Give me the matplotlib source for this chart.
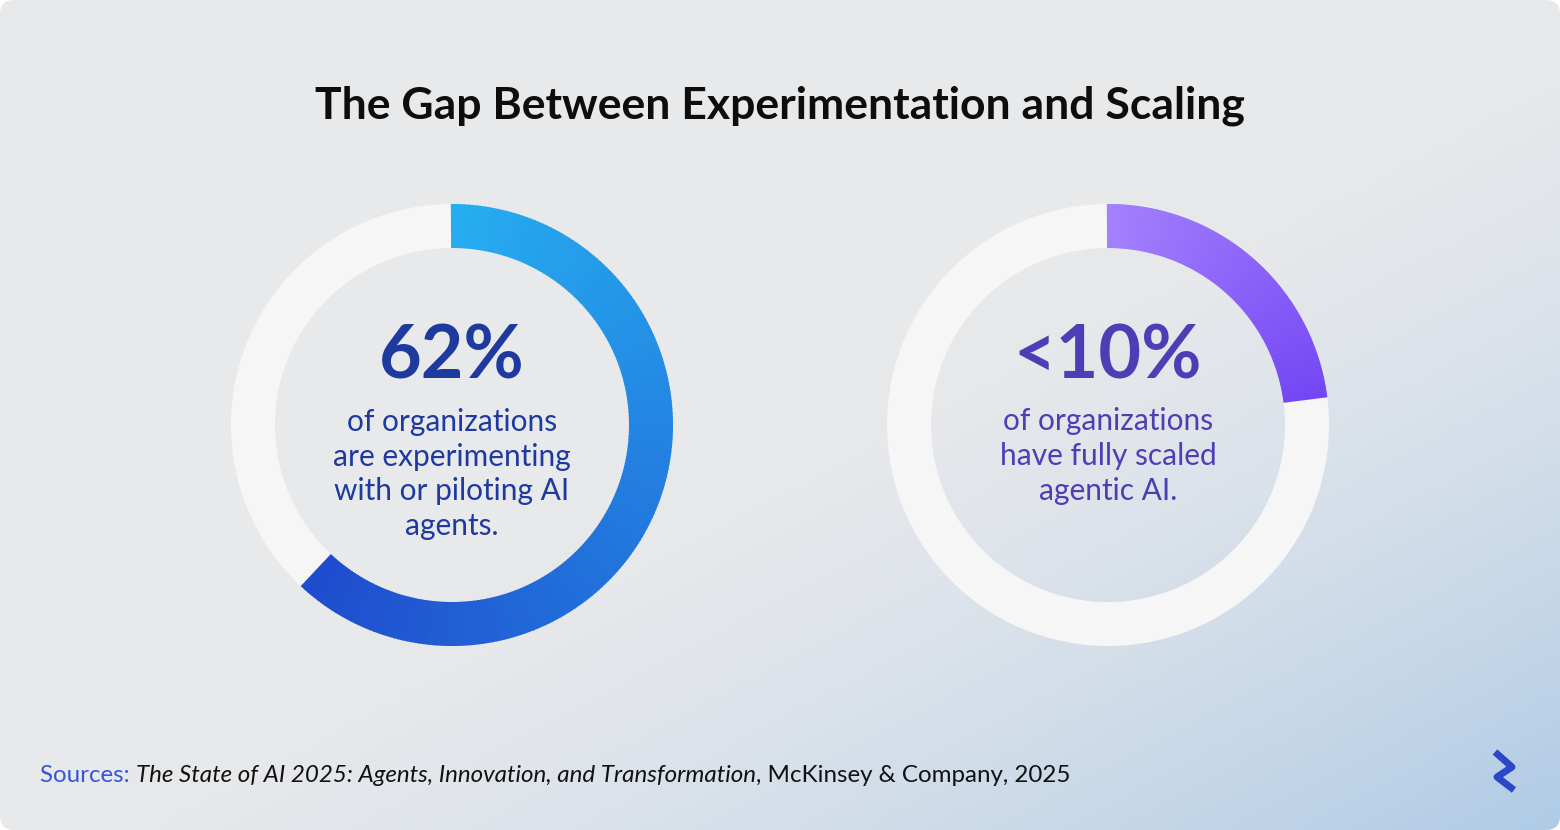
import numpy as np
import matplotlib.pyplot as plt
from matplotlib.patches import Wedge, FancyBboxPatch
from matplotlib.colors import LinearSegmentedColormap, to_rgb

plt.rcParams['font.family'] = ['Lato', 'DejaVu Sans']

title = "The Gap Between Experimentation and Scaling"
values = [62, 23]          # arc share drawn in each ring
big_labels = ["62%", "<10%"]
sub_labels = ["of organizations\nare experimenting\nwith or piloting AI\nagents.",
              "of organizations\nhave fully scaled\nagentic AI."]
text_colors = ["#1f3a9f", "#4f3db5"]
arc_colors = [("#26adf0", "#1f4bce"), ("#a381fd", "#7447f4")]

W, H = 1560, 830
fig = plt.figure(figsize=(15.6, 8.3), dpi=100)
fig.patch.set_alpha(0)
ax = fig.add_axes([0, 0, 1, 1])
ax.set_xlim(0, W)
ax.set_ylim(0, H)
ax.axis("off")

# background gradient gray -> light blue towards bottom right
xx, yy = np.meshgrid(np.linspace(0, 1, 300), np.linspace(0, 1, 160))
t = np.clip((xx * 0.9 + yy * 0.9 - 0.9) / 0.9, 0, 1) ** 1.5
c0, c1 = np.array(to_rgb("#e8e9eb")), np.array(to_rgb("#afcbe6"))
img = c0 + (c1 - c0) * t[..., None]
im = ax.imshow(img, extent=[0, W, 0, H], origin="upper", zorder=0)
clip = FancyBboxPatch((0, 0), W, H, boxstyle="round,pad=0,rounding_size=14",
                      transform=ax.transData, facecolor="none", edgecolor="none")
ax.add_patch(clip)
im.set_clip_path(clip)

ax.text(W / 2, H - 106, title, ha="center", va="center", fontsize=32,
        fontweight="bold", color="#0d0d0d")

centers = [452, 1108]
cy = H - 425
r_out, width = 221, 44
for i, cx in enumerate(centers):
    ax.add_patch(Wedge((cx, cy), r_out, 0, 360, width=width,
                       facecolor="#f6f6f6", edgecolor="none", zorder=2))
    cmap = LinearSegmentedColormap.from_list("a", arc_colors[i])
    span = 360 * values[i] / 100
    n = 200
    for k in range(n):
        a0 = 90 - span * k / n
        a1 = 90 - span * (k + 1) / n
        ax.add_patch(Wedge((cx, cy), r_out, a1, a0 + 0.3, width=width,
                           facecolor=cmap(k / n), edgecolor="none", zorder=3))
    ax.text(cx, H - 357, big_labels[i], ha="center", va="center",
            fontsize=53, fontweight="bold", color=text_colors[i])
    nlines = sub_labels[i].count("\n") + 1
    ax.text(cx, H - (420 + (nlines - 1) * 18), sub_labels[i], ha="center",
            va="center", fontsize=21.5, color=text_colors[i], linespacing=1.3)

src = ax.text(40, H - 775, "Sources: ", ha="left", va="center", fontsize=17.4,
              color="#3456d8")
src2 = ax.annotate("The State of AI 2025: Agents, Innovation, and Transformation",
                   xy=(1, 0.5), xycoords=src, ha="left", va="center",
                   fontsize=17.4, style="italic", color="#111")
ax.annotate(", McKinsey & Company, 2025", xy=(1, 0.5), xycoords=src2,
            ha="left", va="center", fontsize=17.4, color="#111")

# small logo mark
ax.plot([1495, 1512, 1497, 1514], [H - 752, H - 767, H - 777, H - 790],
        color="#2a48c9", lw=5, solid_capstyle="butt")

fig.savefig("out.png", dpi=100)
